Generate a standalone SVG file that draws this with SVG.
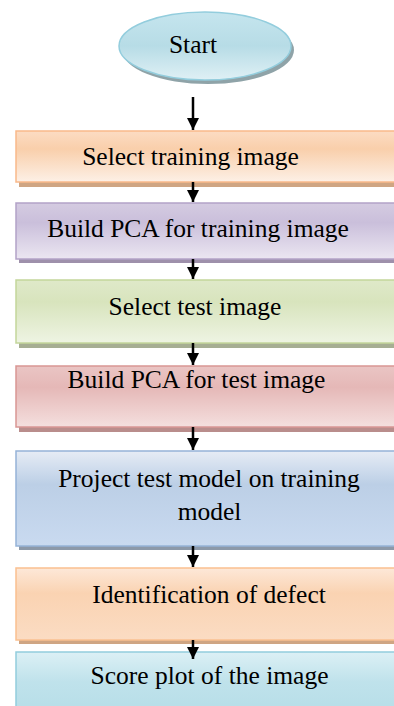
<svg xmlns="http://www.w3.org/2000/svg" width="394" height="706" viewBox="0 0 394 706">
<style>
text{font-family:'Liberation Serif','Times New Roman',Tinos,'DejaVu Serif',serif;font-size:25.5px;fill:#000;text-anchor:middle}
.conn line{stroke:#000;stroke-width:2.5}
</style>
<defs>
<marker id="ah" markerWidth="5" markerHeight="5" refX="5" refY="2.5" orient="auto" markerUnits="strokeWidth" viewBox="0 0 5 5">
<path d="M0,0 L5,2.5 L0,5 Z" fill="#000"/>
</marker>
<linearGradient id="gOr" x1="0" y1="0" x2="0" y2="1"><stop offset="0" stop-color="#fcdcc3"/><stop offset="0.35" stop-color="#f9cfab"/><stop offset="1" stop-color="#fdf0e6"/></linearGradient>
<linearGradient id="gPu" x1="0" y1="0" x2="0" y2="1"><stop offset="0" stop-color="#d4cbe1"/><stop offset="0.35" stop-color="#cabfdb"/><stop offset="1" stop-color="#ebe6f1"/></linearGradient>
<linearGradient id="gGr" x1="0" y1="0" x2="0" y2="1"><stop offset="0" stop-color="#dfe9c9"/><stop offset="0.35" stop-color="#d8e4bd"/><stop offset="1" stop-color="#eef4e3"/></linearGradient>
<linearGradient id="gRe" x1="0" y1="0" x2="0" y2="1"><stop offset="0" stop-color="#eac5c4"/><stop offset="0.35" stop-color="#e5b8b7"/><stop offset="1" stop-color="#f4dfde"/></linearGradient>
<linearGradient id="gBl" x1="0" y1="0" x2="0" y2="1"><stop offset="0" stop-color="#e6ecf5"/><stop offset="0.35" stop-color="#bccfe6"/><stop offset="1" stop-color="#c9daf0"/></linearGradient>
<linearGradient id="gOr2" x1="0" y1="0" x2="0" y2="1"><stop offset="0" stop-color="#fde8d8"/><stop offset="0.35" stop-color="#fad3b2"/><stop offset="1" stop-color="#fbdcc3"/></linearGradient>
<linearGradient id="gCy" x1="0" y1="0" x2="0" y2="1"><stop offset="0" stop-color="#dcf0f5"/><stop offset="0.5" stop-color="#bfe2eb"/><stop offset="1" stop-color="#b7dee8"/></linearGradient>
<linearGradient id="gEl" x1="0" y1="0" x2="0" y2="1"><stop offset="0" stop-color="#c5e5ee"/><stop offset="0.5" stop-color="#b7dce6"/><stop offset="1" stop-color="#dff0f5"/></linearGradient>
</defs>

<g id="start">
<ellipse cx="208" cy="50" rx="86" ry="34" fill="#8fa3a8"/>
<ellipse cx="205" cy="46" rx="86" ry="34" fill="url(#gEl)" stroke="#93cddd" stroke-width="1.5"/>
<text x="193" y="53">Start</text>
</g>

<g id="n1">
<rect x="19" y="134" width="390" height="53" fill="#cfa583"/>
<rect x="16" y="131" width="390" height="51" fill="url(#gOr)" stroke="#f9b98a" stroke-width="1.5"/>
<text x="190.5" y="165">Select training image</text>
</g>

<g id="n2">
<rect x="19" y="206" width="390" height="57" fill="#9e90ab"/>
<rect x="16" y="203" width="390" height="56" fill="url(#gPu)" stroke="#b3a2c7" stroke-width="1.5"/>
<text x="198" y="237">Build PCA for training image</text>
</g>

<g id="n3">
<rect x="19" y="283" width="390" height="65" fill="#a6ae93"/>
<rect x="16" y="280" width="390" height="63" fill="url(#gGr)" stroke="#c3d69b" stroke-width="1.5"/>
<text x="195" y="315">Select test image</text>
</g>

<g id="n4">
<rect x="19" y="369" width="390" height="63" fill="#b98d8c"/>
<rect x="16" y="366" width="390" height="61" fill="url(#gRe)" stroke="#d99694" stroke-width="1.5"/>
<text x="196.5" y="388">Build PCA for test image</text>
</g>

<g id="n5">
<rect x="19" y="454" width="390" height="96" fill="#8c99a9"/>
<rect x="16" y="451" width="390" height="95" fill="url(#gBl)" stroke="#95b3d7" stroke-width="1.5"/>
<text x="209" y="487">Project test model on training</text>
<text x="209.5" y="520">model</text>
</g>

<g id="n6">
<rect x="19" y="571" width="390" height="73" fill="#cfa583"/>
<rect x="16" y="568" width="390" height="72" fill="url(#gOr2)" stroke="#fac090" stroke-width="1.5"/>
<text x="209" y="603">Identification of defect</text>
</g>

<g id="n7">
<rect x="19" y="655" width="390" height="60" fill="#93b9c3"/>
<rect x="16" y="652" width="390" height="60" fill="url(#gCy)" stroke="#93cddd" stroke-width="1.5"/>
<text x="209.5" y="684">Score plot of the image</text>
</g>

<g id="connectors" class="conn">
<line x1="193" y1="97" x2="193" y2="130" marker-end="url(#ah)"/>
<line x1="193" y1="182" x2="193" y2="202" marker-end="url(#ah)"/>
<line x1="193" y1="259" x2="193" y2="279" marker-end="url(#ah)"/>
<line x1="193" y1="343" x2="193" y2="365" marker-end="url(#ah)"/>
<line x1="193" y1="427" x2="193" y2="450" marker-end="url(#ah)"/>
<line x1="193" y1="546" x2="193" y2="567" marker-end="url(#ah)"/>
<line x1="193" y1="640" x2="193" y2="659" marker-end="url(#ah)"/>
</g>
</svg>
